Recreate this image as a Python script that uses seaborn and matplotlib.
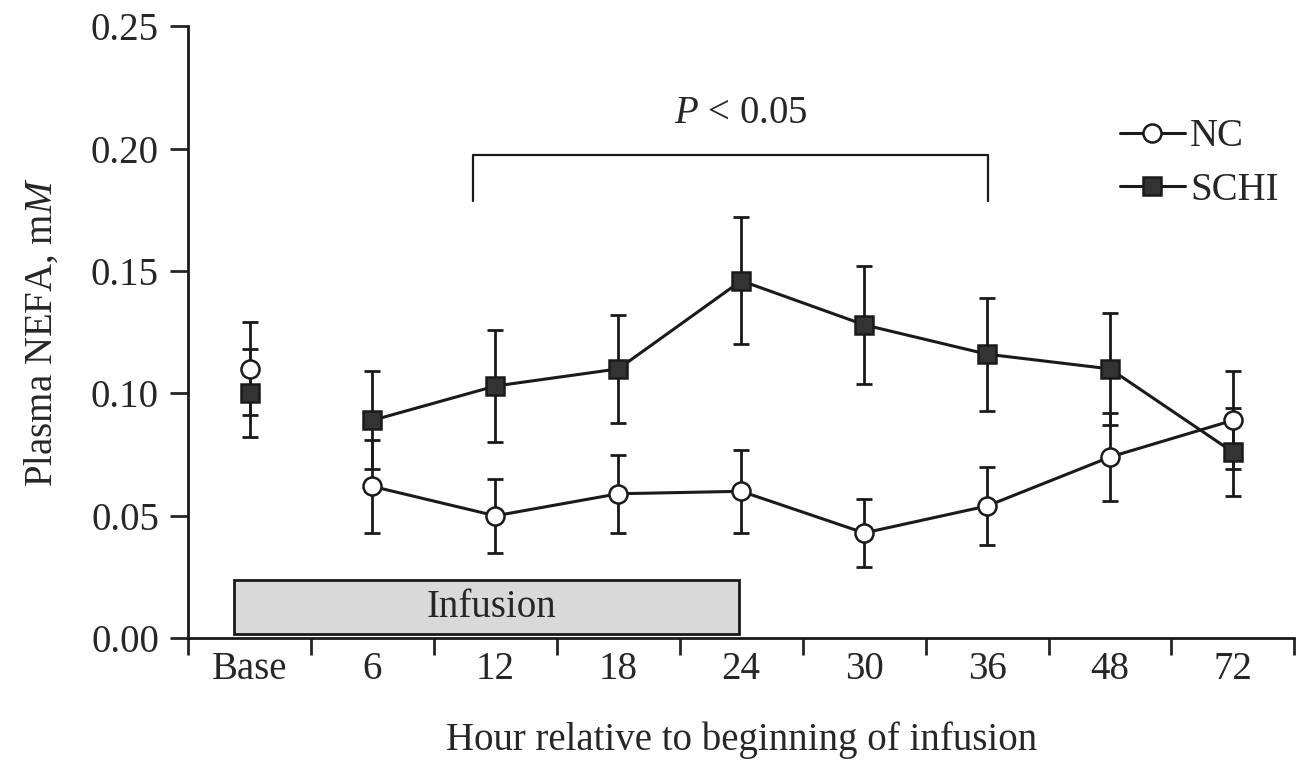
import numpy as np
import pandas as pd
import matplotlib
matplotlib.use("Agg")
import matplotlib.pyplot as plt
import seaborn as sns
from matplotlib.lines import Line2D
from matplotlib.patches import Rectangle

# Dados
hours = ['Base', '6', '12', '18', '24', '30', '36', '48', '72']
nc_mean = [0.110, 0.062, 0.050, 0.059, 0.060, 0.043, 0.054, 0.074, 0.089]
nc_se = [0.019, 0.019, 0.015, 0.016, 0.017, 0.014, 0.016, 0.018, 0.020]
schi_mean = [0.100, 0.089, 0.103, 0.110, 0.146, 0.128, 0.116, 0.110, 0.076]
schi_se = [0.018, 0.020, 0.023, 0.022, 0.026, 0.024, 0.023, 0.023, 0.018]

pos = np.arange(len(hours))
df = pd.DataFrame({
    'pos': np.concatenate([pos, pos]),
    'valor': nc_mean + schi_mean,
    'se': nc_se + schi_se,
    'grupo': ['NC'] * len(hours) + ['SCHI'] * len(hours),
})

sns.set_style("ticks")
plt.rcParams['font.family'] = ['Liberation Serif', 'DejaVu Serif']
plt.rcParams['mathtext.fontset'] = 'custom'
plt.rcParams['mathtext.it'] = 'Liberation Serif:italic'
plt.rcParams['mathtext.rm'] = 'Liberation Serif'

fs = 28
cor = '#1a1a1a'

fig = plt.figure(figsize=(12.97, 7.68), dpi=100)
ax = fig.add_axes([0.145, 0.169, 0.853, 0.797])

# Barras de erro
for g in ['NC', 'SCHI']:
    d = df[df['grupo'] == g]
    ax.errorbar(d['pos'], d['valor'], yerr=d['se'], fmt='none', ecolor=cor,
                elinewidth=2, capsize=5.5, capthick=2, zorder=2)

estilos = {'NC': dict(marker='o', markerfacecolor='white', markersize=13),
           'SCHI': dict(marker='s', markerfacecolor='#333333', markersize=13)}

# Linhas (sem o Base)
for g in ['NC', 'SCHI']:
    d = df[(df['grupo'] == g) & (df['pos'] > 0)]
    sns.lineplot(data=d, x='pos', y='valor', ax=ax, color=cor, linewidth=2.2,
                 markeredgecolor=cor, markeredgewidth=1.8, zorder=3,
                 errorbar=None, **estilos[g])
    b = df[(df['grupo'] == g) & (df['pos'] == 0)]
    ax.plot(b['pos'], b['valor'], linestyle='none', color=cor,
            markeredgecolor=cor, markeredgewidth=1.8, zorder=3, **estilos[g])

# Caixa de infusão
ax.add_patch(Rectangle((-0.13, 0.0017), 4.11, 0.022, facecolor='#d9d9d9',
                       edgecolor=cor, linewidth=2, zorder=1))
ax.text(1.97, 0.0125, 'Infusion', ha='center', va='center', fontsize=fs, zorder=4)

# Colchete de significância
ax.plot([1.82, 1.82, 6.01, 6.01], [0.1787, 0.1975, 0.1975, 0.1787],
        color=cor, linewidth=1.6, clip_on=False)
ax.text(4.0, 0.2145, r'$\it{P}$ < 0.05', ha='center', va='center', fontsize=fs)

ax.set_xlim(-0.5, 8.5)
ax.set_ylim(0, 0.25)
ax.set_yticks(np.arange(0, 0.26, 0.05))
ax.set_yticklabels([f'{v:.2f}' for v in np.arange(0, 0.26, 0.05)], fontsize=fs)
ax.set_xticks(pos)
ax.set_xticklabels(hours, fontsize=fs)
ax.set_xticks(np.arange(-0.5, 8.6, 1), minor=True)
ax.tick_params(axis='x', which='major', length=0, pad=9)
ax.tick_params(axis='x', which='minor', length=12, width=2, direction='out')
ax.tick_params(axis='y', length=13, width=2, direction='out', pad=8)
ax.set_xlabel('Hour relative to beginning of infusion', fontsize=fs, labelpad=24)
ax.set_ylabel(r'Plasma NEFA, m$\it{M}$', fontsize=fs, labelpad=22)
sns.despine(ax=ax)
for s in ['left', 'bottom']:
    ax.spines[s].set_linewidth(2)
    ax.spines[s].set_color(cor)

handles = [Line2D([], [], color=cor, linewidth=2.2, markeredgecolor=cor,
                  markeredgewidth=1.8, **estilos['NC']),
           Line2D([], [], color=cor, linewidth=2.2, markeredgecolor=cor,
                  markeredgewidth=1.8, **estilos['SCHI'])]
ax.legend(handles, ['NC', 'SCHI'], loc='upper right', bbox_to_anchor=(1.0, 0.875),
          frameon=False, fontsize=fs, handlelength=1.65, handletextpad=0.15,
          labelspacing=0.42, borderaxespad=0)

plt.savefig('out.png', dpi=100)
